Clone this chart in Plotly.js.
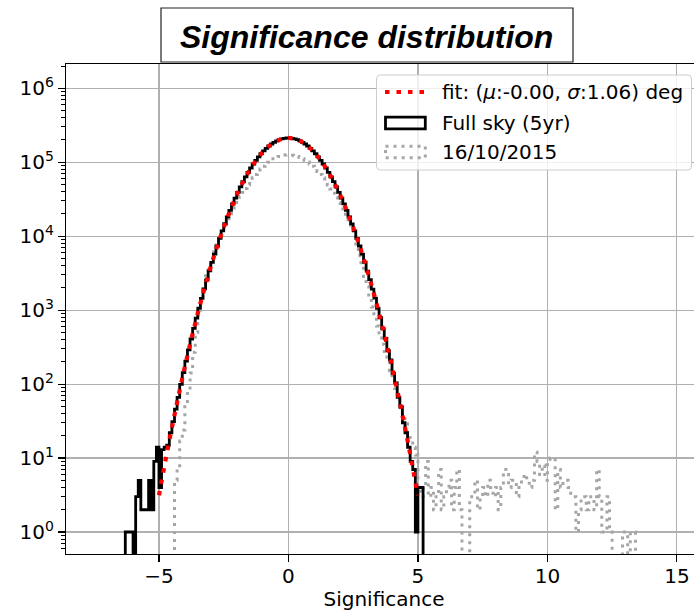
<!DOCTYPE html>
<html><head><meta charset="utf-8">
<script src="https://cdn.plot.ly/plotly-3.0.1.min.js"></script>
<style>html,body{margin:0;padding:0;overflow:hidden;background:#fff;}#chart{width:710px;height:611px;}</style>
</head><body><div id="chart"></div>
<script>
// ---------------- data ----------------
const binWidth = 0.1;
const fullSkyFirstEdge = -6.3;
const fullSkyCounts = [
  1,1,1,0,3,5,2,2,2,5,
  2,9,14,4,13,14,15,22,31,46,
  66,99,143,205,290,407,566,780,1066,1443,
  1938,2573,3395,4430,5738,7356,9361,11785,14733,18236,
  22393,27256,32824,39218,46447,54517,63417,73128,83572,94657,
  106265,118236,130414,142548,154437,165831,176490,186168,194642,201697,
  207157,210876,212761,
  212750,210890,207140,201720,194630,186180,176470,165850,154420,142570,
  130390,118260,106250,94680,83550,73150,63400,54540,46430,39240,
  32800,27280,22370,18260,14710,11800,9345,7370,5722,4445,
  3381,2590,1925,1452,1058,790,560,415,284,212,
  140,104,66,49,30,22,14,9,7,1,
  4,4
];
const dayFirstEdge = -4.4;
const dayCounts = [
  5,7,17,24,52,79,141,269,501,912,
  1510,2190,2920,3800,4840,6100,7590,9330,11350,13650,
  16200,19100,22400,26000,29900,34300,38900,44200,49500,55600,
  61700,68400,75000,81300,88100,94400,100000,105900,111200,115600,
  119700,123000,125300,125900,
  125800,124800,122900,120000,116400,111900,106800,101100,95000,88600,
  82000,75250,68550,61900,55550,49430,43630,38230,33240,28670,
  24540,20840,17560,14680,12180,10020,7410,5430,3950,2860,
  2080,1510,1100,813,610,457,347,263,200,151,
  115,87,66,50,38,29,22,17,14,11,
  4,3,4,9,3,4,2,3,7,2,
  3,4,5,2,4,7,2,0,0,0,
  3,3,5,2,3,4,3,5,4,3,
  4,2,4,7,6,4,5,5,3,4,
  5,6,5,4,5,12,9,6,8,5,
  9,10,10,2,7,4,5,5,4,3,
  3,1,2,3,3,2,3,3,2,7,
  3,1,1,3,1,0,0,0,0,1,
  1,0,1,1
];
const fitX = [-5,-4.75,-4.5,-4.25,-4,-3.75,-3.5,-3.25,-3,-2.75,-2.5,-2.25,-2,-1.75,-1.5,-1.25,-1,-0.75,-0.5,-0.25,
  0,0.25,0.5,0.75,1,1.25,1.5,1.75,2,2.25,2.5,2.75,3,3.25,3.5,3.75,4,4.25,4.5,4.75,5];
const fitY = [3.14,9.28,25.98,68.7,172.2,407.8,913.8,1937,3882,7359,13195,22390,35920,54520,78260,106270,136490,165830,190570,207160,
  213000,207160,190570,165830,136490,106270,78260,54520,35920,22390,13195,7359,3882,1937,913.8,407.8,172.2,68.7,25.98,9.28,3.14];
const yTickVals = [1,10,100,1000,10000,100000,1000000];
const yTickText = ['10<sup>0</sup>','10<sup>1</sup>','10<sup>2</sup>','10<sup>3</sup>','10<sup>4</sup>','10<sup>5</sup>','10<sup>6</sup>'];
const seriesNames = ['fit: (<i>μ</i>:-0.00, <i>σ</i>:1.06) deg','Full sky (5yr)','16/10/2015'];
const titleText = 'Significance distribution';
const xLabel = 'Significance';

// ---------------- geometry helpers ----------------
const W = 710, H = 611, ML = 66, MR = 8, MT = 64, MB = 57;
const PW = W - ML - MR, PH = H - MT - MB;
const px = x => (x - ML) / PW;
const py = y => (H - MB - y) / PH;
const FLOOR = 0.1; // empty bins drop below the axis bottom

function stepXY(firstEdge, counts) {
  const xs = [firstEdge], ys = [FLOOR];
  counts.forEach((c, i) => { xs.push(firstEdge + i * binWidth); ys.push(c > 0 ? c : FLOOR); });
  const lastEdge = firstEdge + counts.length * binWidth;
  const last = counts[counts.length - 1];
  xs.push(lastEdge); ys.push(last > 0 ? last : FLOOR);
  xs.push(lastEdge); ys.push(FLOOR);
  return {xs, ys};
}
const fs = stepXY(fullSkyFirstEdge, fullSkyCounts);
const dy = stepXY(dayFirstEdge, dayCounts);

const GRAY = '#a6a6a6';
const traces = [
  {x: dy.xs, y: dy.ys, type: 'scatter', mode: 'lines', name: seriesNames[2],
   line: {color: GRAY, width: 3, shape: 'hv', dash: '3px,5px', simplify: false}, hoverinfo: 'skip'},
  {x: fs.xs, y: fs.ys, type: 'scatter', mode: 'lines', name: seriesNames[1],
   line: {color: '#000000', width: 2.8, shape: 'hv', simplify: false}, hoverinfo: 'skip'},
  {x: fitX, y: fitY, type: 'scatter', mode: 'lines', name: seriesNames[0],
   line: {color: '#ff0000', width: 4.2, dash: '4.5px,7px', simplify: false}, hoverinfo: 'skip'}
];

// legend (drawn by hand to reproduce the patch-style markers)
const LB = {l: 376.5, r: 691.5, t: 75, b: 170};
const rx = 4 / PW, ry = 4 / PH;
const L = px(LB.l), R = px(LB.r), T = py(LB.t), B = py(LB.b);
const legendPath = `M ${L+rx},${T} L ${R-rx},${T} Q ${R},${T} ${R},${T-ry} L ${R},${B+ry} Q ${R},${B} ${R-rx},${B} L ${L+rx},${B} Q ${L},${B} ${L},${B+ry} L ${L},${T-ry} Q ${L},${T} ${L+rx},${T} Z`;

const rowY = [92, 123, 152];
const shapes = [
  {type: 'path', xref: 'paper', yref: 'paper', path: legendPath,
   fillcolor: 'rgba(255,255,255,0.8)', line: {color: '#cccccc', width: 1}},
  {type: 'line', xref: 'paper', yref: 'paper', x0: px(385), x1: px(426), y0: py(rowY[0]), y1: py(rowY[0]),
   line: {color: '#ff0000', width: 4.2, dash: '4.5px,7px'}},
  {type: 'rect', xref: 'paper', yref: 'paper', x0: px(385.5), x1: px(425.3), y0: py(rowY[1]-5.8), y1: py(rowY[1]+5.8),
   line: {color: '#000000', width: 2.8}, fillcolor: 'rgba(0,0,0,0)'},
  {type: 'rect', xref: 'paper', yref: 'paper', x0: px(385.5), x1: px(425.3), y0: py(rowY[2]-5.8), y1: py(rowY[2]+5.8),
   line: {color: GRAY, width: 3, dash: '3px,5px'}, fillcolor: 'rgba(0,0,0,0)'},
  // title box
  {type: 'rect', xref: 'paper', yref: 'paper', x0: px(161), x1: px(573), y0: py(62), y1: py(8),
   line: {color: '#222222', width: 1.2}, fillcolor: '#ffffff'}
];
const annotations = seriesNames.map((t, i) => ({
  text: t, xref: 'paper', yref: 'paper', x: px(440), y: py(rowY[i]), xanchor: 'left', yanchor: 'middle',
  showarrow: false, font: {family: 'DejaVu Sans', size: 20, color: '#000'}
}));
annotations.push({
  text: '<b><i>' + titleText + '</i></b>', xref: 'paper', yref: 'paper', x: px(366.5), y: py(36.5),
  xanchor: 'center', yanchor: 'middle', showarrow: false,
  font: {family: 'Liberation Sans, Arial, sans-serif', size: 32, color: '#000'}
});

const layout = {
  width: W, height: H,
  margin: {l: ML, r: MR, t: MT, b: MB, pad: 0},
  paper_bgcolor: '#fff', plot_bgcolor: '#fff',
  font: {family: 'DejaVu Sans', size: 20, color: '#000'},
  showlegend: false,
  xaxis: {
    range: [-8.59, 15.97], tick0: 0, dtick: 5, ticks: 'outside', ticklen: 7, tickwidth: 1.2, tickcolor: '#000',
    ticklabelstandoff: -3,
    showgrid: true, gridcolor: '#b0b0b0', gridwidth: 1.2, zeroline: false,
    showline: true, linecolor: '#000', linewidth: 1.2, mirror: true,
    tickfont: {family: 'DejaVu Sans', size: 20, color: '#000'},
    title: {text: xLabel, font: {family: 'DejaVu Sans', size: 20, color: '#000'}, standoff: 6}
  },
  yaxis: {
    type: 'log', range: [-0.2975, 6.3286], tickmode: 'array', tickvals: yTickVals, ticktext: yTickText,
    ticks: 'outside', ticklen: 7, tickwidth: 1.2, tickcolor: '#000',
    minor: {ticks: 'outside', ticklen: 3.5, tickwidth: 1, tickcolor: '#000', dtick: 'D1', showgrid: false},
    showgrid: true, gridcolor: '#b0b0b0', gridwidth: 1.2, zeroline: false,
    showline: true, linecolor: '#000', linewidth: 1.2, mirror: true,
    tickfont: {family: 'DejaVu Sans', size: 20, color: '#000'}
  },
  shapes: shapes,
  annotations: annotations
};
Plotly.newPlot('chart', traces, layout, {staticPlot: true, displayModeBar: false});
</script>
</body></html>
